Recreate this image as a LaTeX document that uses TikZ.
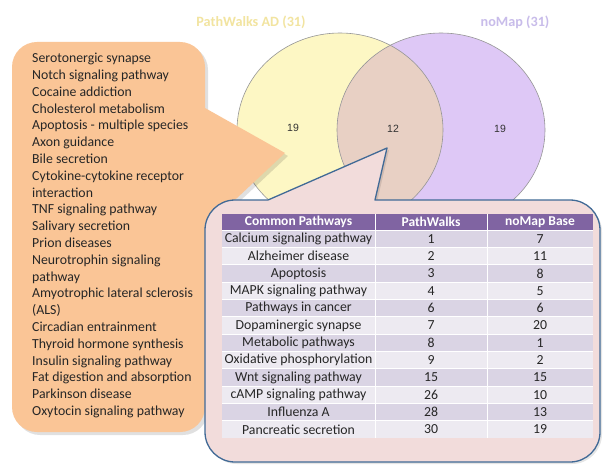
\documentclass[tikz,border=0pt]{standalone}
\usepackage{fontspec}
\setmainfont{Carlito}
\newfontfamily\arialf{Liberation Sans}
\definecolor{vyel}{RGB}{253,247,196}
\definecolor{vpur}{RGB}{222,200,246}
\definecolor{vmix}{RGB}{232,208,196}
\definecolor{vline}{RGB}{150,150,150}
\definecolor{orng}{RGB}{250,197,150}
\definecolor{pinkf}{RGB}{242,220,219}
\definecolor{blueb}{RGB}{65,106,150}
\definecolor{hdr}{RGB}{128,100,162}
\definecolor{rowd}{RGB}{218,212,228}
\definecolor{rowl}{RGB}{237,234,241}
\definecolor{tyel}{RGB}{242,228,160}
\definecolor{tpur}{RGB}{200,188,234}
\begin{document}
\begin{tikzpicture}[x=1pt,y=-1pt,
  listtext/.style={font=\fontsize{13.8}{16.8}\selectfont, align=left, anchor=north west, inner sep=0pt, text=black!85},
  celltext/.style={font=\fontsize{13.8}{14}\selectfont, inner sep=0pt, text=black!85},
  hdrtext/.style={font=\fontsize{13.5}{14}\selectfont\bfseries, inner sep=0pt, text=white},
  vnum/.style={font=\arialf\fontsize{10.5}{11}\selectfont, text=black!80, inner sep=0pt},
  vtitle/.style={font=\fontsize{14.2}{15}\selectfont\bfseries, inner sep=0pt}]
\useasboundingbox (0,0) rectangle (604,465);
\fill[white] (0,0) rectangle (604,465);
% Venn
\fill[vyel] (340,130) ellipse [x radius=103, y radius=97];
\fill[vpur] (441,130) ellipse [x radius=104, y radius=97];
\begin{scope}
  \clip (441,130) ellipse [x radius=104, y radius=97];
  \fill[vmix] (340,130) ellipse [x radius=103, y radius=97];
\end{scope}
\draw[vline, line width=0.6pt] (340,130) ellipse [x radius=103, y radius=97];
\draw[vline, line width=0.6pt] (441,130) ellipse [x radius=104, y radius=97];
\node[vnum] (n1) at (293,128) {19};
\node[vnum] (n2) at (393,129) {12};
\node[vnum] (n3) at (500,129) {19};
\node[vtitle, text=tyel] (t1) at (251,22) {PathWalks AD (31)};
\node[vtitle, text=tpur] (t2) at (515,22) {noMap (31)};
% orange callout
\def\orpath{(37,42) -- (180,42) arc[start angle=-90, end angle=0, radius=25] -- (205,108) -- (285,153) -- (205,228) -- (205,407) arc[start angle=0, end angle=90, radius=25] -- (37,432) arc[start angle=90, end angle=180, radius=25] -- (12,67) arc[start angle=180, end angle=270, radius=25] -- cycle}
\fill[black, opacity=0.12] [shift={(3,3)}] \orpath;
\fill[orng] \orpath;
\node[listtext] (list) at (32,53) {Serotonergic synapse\\Notch signaling pathway\\Cocaine addiction\\Cholesterol metabolism\\Apoptosis - multiple species\\Axon guidance\\Bile secretion\\Cytokine-cytokine receptor\\interaction\\TNF signaling pathway\\Salivary secretion\\Prion diseases\\Neurotrophin signaling\\pathway\\Amyotrophic lateral sclerosis\\(ALS)\\Circadian entrainment\\Thyroid hormone synthesis\\Insulin signaling pathway\\Fat digestion and absorption\\Parkinson disease\\Oxytocin signaling pathway};
% table callout
\def\tbpath{(235,200) -- (268,200) -- (387,148) -- (375,200) -- (570,200) arc[start angle=-90, end angle=0, radius=30] -- (600,432) arc[start angle=0, end angle=90, radius=30] -- (235,462) arc[start angle=90, end angle=180, radius=30] -- (205,230) arc[start angle=180, end angle=270, radius=30] -- cycle}
\fill[black, opacity=0.10] [shift={(2,2)}] \tbpath;
\filldraw[fill=pinkf, draw=blueb, line width=1.3pt, line join=round] \tbpath;
% table
\fill[hdr] (222,214) rectangle (593,230);
\node[hdrtext] (h1) at (298.5,222) {Common Pathways};
\node[hdrtext] (h2) at (431,222) {PathWalks};
\node[hdrtext] (h3) at (540,222) {noMap Base};
\foreach \i/\a/\b/\c in {1/Calcium signaling pathway/1/7, 2/Alzheimer disease/2/11, 3/Apoptosis/3/8, 4/MAPK signaling pathway/4/5, 5/Pathways in cancer/6/6, 6/Dopaminergic synapse/7/20, 7/Metabolic pathways/8/1, 8/Oxidative phosphorylation/9/2, 9/Wnt signaling pathway/15/15, 10/cAMP signaling pathway/26/10, 11/Influenza A/28/13, 12/Pancreatic secretion/30/19}{
  \pgfmathsetmacro{\ytop}{230+(\i-1)*17.33}
  \pgfmathsetmacro{\ymid}{\ytop+8.8}
  \pgfmathparse{mod(\i,2)==1 ? "rowd" : "rowl"}
  \edef\rc{\pgfmathresult}
  \fill[\rc] (222,\ytop) rectangle (593,\ytop+17.33);
  \node[celltext] (ra\i) at (298.5,\ymid) {\a};
  \node[celltext] (rb\i) at (431,\ymid) {\b};
  \node[celltext] (rc\i) at (540,\ymid) {\c};
}
\draw[white, line width=0.8pt] (375,214) -- (375,438.0) (487,214) -- (487,438.0);
\foreach \i in {1,...,11}{
  \draw[white, line width=0.6pt] (222,230+\i*17.33) -- (593,230+\i*17.33);
}
\draw[white, line width=0.6pt] (222,230) -- (593,230);
\end{tikzpicture}
\end{document}
